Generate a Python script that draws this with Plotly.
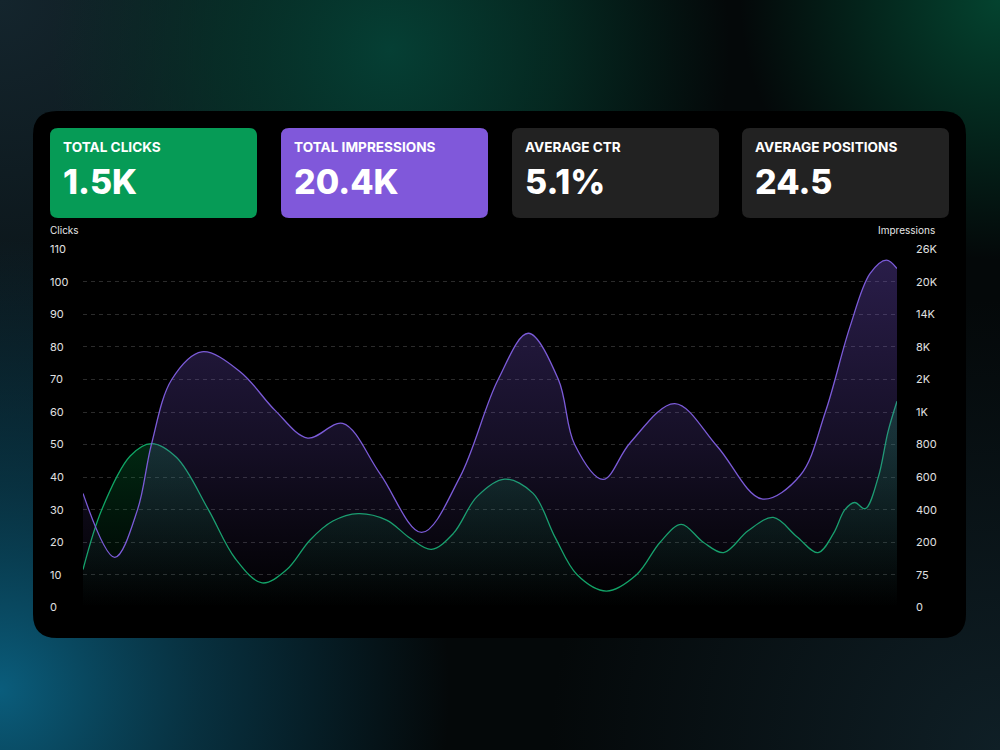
import base64
import numpy as np
import plotly.graph_objects as go

# ---------------- data ----------------
kpi_titles = ["TOTAL CLICKS", "TOTAL IMPRESSIONS", "AVERAGE CTR", "AVERAGE POSITIONS"]
kpi_values = ["1.5K", "20.4K", "5.1%", "24.5"]
kpi_colors = ["#069b56", "#8058da", "#222222", "#222222"]

# timeline position (0..100 % of the period)
clicks_t = [0, 2.3, 5.8, 8.4, 11.5, 15.4, 18.7, 22.0, 25.0, 27.9, 30.7, 33.8, 37.3,
            40.2, 42.8, 45.5, 48.4, 51.8, 55.3, 58.0, 60.7, 64.3, 68.0, 70.9, 73.5,
            76.2, 78.7, 81.7, 84.8, 87.7, 90.3, 92.2, 93.6, 94.8, 96.1, 97.7, 98.9, 100]
clicks = [11.6, 30, 46.5, 50.3, 46, 30, 15, 7.5, 11.5, 20.7, 26.5, 28.8, 26.8,
          21.2, 17.8, 22.7, 34, 39.4, 35, 21.5, 10, 5, 10, 20, 25.5,
          20, 16.8, 23.5, 27.6, 21.7, 16.8, 22.7, 30, 32.2, 30.3, 40, 54, 63.3]

impressions_t = [0, 3.9, 6.7, 8.4, 10.9, 14.6, 19.3, 23.6, 27.6, 31.9, 36.5, 41.6, 46.3,
                 51.0, 54.7, 58.4, 60.4, 63.9, 67.2, 72.7, 77.9, 83.4, 88.1, 91.2, 94.2,
                 96.7, 98.7, 100]
impressions = [500, 142, 400, 800, 2000, 7100, 3440, 1050, 840, 930, 620, 260, 600,
               2000, 10520, 2000, 800, 586, 810, 1260, 790, 466, 610, 1000, 11600,
               21560, 24020, 22460]

clicks_ticks = [0, 10, 20, 30, 40, 50, 60, 70, 80, 90, 100, 110]
impr_tick_values = [0, 75, 200, 400, 600, 800, 1000, 2000, 8000, 14000, 20000, 26000]
impr_tick_labels = ["0", "75", "200", "400", "600", "800", "1K", "2K", "8K", "14K", "20K", "26K"]

# piecewise scale for the impressions axis (its ticks are evenly spaced)
impr_pos = np.interp(impressions, impr_tick_values, clicks_ticks)

W, H = 1000, 750
def X(px): return px / W
def Y(py): return 1 - py / H

def rr(x0, y0, x1, y1, r):
    p = [
        f"M {X(x0+r)},{Y(y0)}", f"L {X(x1-r)},{Y(y0)}",
        f"Q {X(x1)},{Y(y0)} {X(x1)},{Y(y0+r)}", f"L {X(x1)},{Y(y1-r)}",
        f"Q {X(x1)},{Y(y1)} {X(x1-r)},{Y(y1)}", f"L {X(x0+r)},{Y(y1)}",
        f"Q {X(x0)},{Y(y1)} {X(x0)},{Y(y1-r)}", f"L {X(x0)},{Y(y0+r)}",
        f"Q {X(x0)},{Y(y0)} {X(x0+r)},{Y(y0)}", "Z"]
    return " ".join(p)

# background glows as an svg image
svg = f"""<svg xmlns="http://www.w3.org/2000/svg" width="{W}" height="{H}" viewBox="0 0 {W} {H}" preserveAspectRatio="none">
<defs>
<radialGradient id="a" gradientUnits="userSpaceOnUse" cx="0" cy="0" r="560">
<stop offset="0" stop-color="#14252d"/><stop offset="1" stop-color="#14252d" stop-opacity="0"/></radialGradient>
<radialGradient id="b" gradientUnits="userSpaceOnUse" cx="390" cy="50" r="340">
<stop offset="0" stop-color="#053f34"/><stop offset="0.5" stop-color="#05352a" stop-opacity="0.7"/><stop offset="1" stop-color="#05352a" stop-opacity="0"/></radialGradient>
<radialGradient id="c" gradientUnits="userSpaceOnUse" cx="1000" cy="0" r="260">
<stop offset="0" stop-color="#04432f"/><stop offset="1" stop-color="#04432f" stop-opacity="0"/></radialGradient>
<radialGradient id="d" gradientUnits="userSpaceOnUse" cx="0" cy="690" r="450">
<stop offset="0" stop-color="#0a5d7c"/><stop offset="0.45" stop-color="#0a4a62" stop-opacity="0.6"/><stop offset="1" stop-color="#0a4a62" stop-opacity="0"/></radialGradient>
<radialGradient id="e" gradientUnits="userSpaceOnUse" cx="1000" cy="750" r="450">
<stop offset="0" stop-color="#0f1f26"/><stop offset="1" stop-color="#0f1f26" stop-opacity="0"/></radialGradient>
</defs>
<rect width="{W}" height="{H}" fill="#040809"/>
<rect width="{W}" height="{H}" fill="url(#a)"/>
<rect width="{W}" height="{H}" fill="url(#e)"/>
<rect width="{W}" height="{H}" fill="url(#b)"/>
<rect width="{W}" height="{H}" fill="url(#c)"/>
<rect width="{W}" height="{H}" fill="url(#d)"/>
</svg>"""
bg_src = "data:image/svg+xml;base64," + base64.b64encode(svg.encode()).decode()

fig = go.Figure()

fig.add_trace(go.Scatter(
    x=impressions_t, y=impr_pos, yaxis="y2", mode="lines", name="Impressions",
    line=dict(color="#7b5bd8", width=1.3, shape="spline", smoothing=1.0),
    fill="tozeroy",
    fillgradient=dict(type="vertical", start=0, stop=110,
                      colorscale=[[0, "rgba(124,88,220,0.0)"], [0.45, "rgba(124,88,220,0.17)"],
                                  [1, "rgba(124,88,220,0.34)"]]),
    hoverinfo="skip"))

fig.add_trace(go.Scatter(
    x=clicks_t, y=clicks, yaxis="y", mode="lines", name="Clicks",
    line=dict(color="#10a565", width=1.3, shape="spline", smoothing=1.0),
    fill="tozeroy",
    fillgradient=dict(type="vertical", start=0, stop=110,
                      colorscale=[[0, "rgba(6,150,70,0.0)"], [0.45, "rgba(6,150,70,0.26)"],
                                  [1, "rgba(6,150,70,0.40)"]]),
    hoverinfo="skip"))

ydom = [Y(607.3), Y(249.3)]
font_ui = "Inter, Roboto, sans-serif"

shapes = [dict(type="path", xref="paper", yref="paper", path=rr(33, 111, 966, 638, 24),
               fillcolor="#000000", line=dict(width=0), layer="below")]
annotations = []
card_x = [50, 281, 512, 742]
for cx, t, v, c in zip(card_x, kpi_titles, kpi_values, kpi_colors):
    shapes.append(dict(type="path", xref="paper", yref="paper", path=rr(cx, 128, cx + 207, 218, 8),
                       fillcolor=c, line=dict(width=0), layer="below"))
    annotations.append(dict(x=X(cx + 11), y=Y(146.5), xref="paper", yref="paper", text=t,
                            showarrow=False, xanchor="left", yanchor="middle",
                            font=dict(family=font_ui, size=13.6, color="#ffffff", weight=700)))
    annotations.append(dict(x=X(cx + 11), y=Y(181), xref="paper", yref="paper", text=v,
                            showarrow=False, xanchor="left", yanchor="middle",
                            font=dict(family=font_ui, size=34, color="#ffffff", weight=800)))

annotations.append(dict(x=X(48), y=Y(230), xref="paper", yref="paper", text="Clicks",
                        showarrow=False, xanchor="left", yanchor="middle",
                        font=dict(family=font_ui, size=10, color="#e6e6e6")))
annotations.append(dict(x=X(937), y=Y(230), xref="paper", yref="paper", text="Impressions",
                        showarrow=False, xanchor="right", yanchor="middle",
                        font=dict(family=font_ui, size=10, color="#e6e6e6")))

fig.update_layout(
    width=W, height=H, margin=dict(l=0, r=0, t=0, b=0, pad=0, autoexpand=False),
    paper_bgcolor="#040809", plot_bgcolor="rgba(0,0,0,0)",
    showlegend=False,
    images=[dict(source=bg_src, xref="paper", yref="paper", x=0, y=1, sizex=1, sizey=1,
                 xanchor="left", yanchor="top", sizing="stretch", layer="below")],
    shapes=shapes, annotations=annotations,
    xaxis=dict(domain=[X(83), X(897)], range=[0, 100], visible=False, fixedrange=True,
               automargin=False),
    yaxis=dict(domain=ydom, range=[0, 110], tickvals=clicks_ticks,
               anchor="free", position=X(49), side="right", automargin=False,
               showgrid=True, gridcolor="rgba(255,255,255,0.17)", griddash="4px,4px", gridwidth=1,
               zeroline=False, showline=False, ticks="",
               tickfont=dict(family=font_ui, size=11, color="#e0e0e0")),
    yaxis2=dict(domain=ydom, range=[0, 110], overlaying="y", side="right",
                anchor="free", position=X(915), automargin=False,
                tickvals=clicks_ticks, ticktext=impr_tick_labels,
                showgrid=False, zeroline=False, showline=False, ticks="",
                tickfont=dict(family=font_ui, size=11, color="#e0e0e0")),
)

fig.write_html("out.html")
